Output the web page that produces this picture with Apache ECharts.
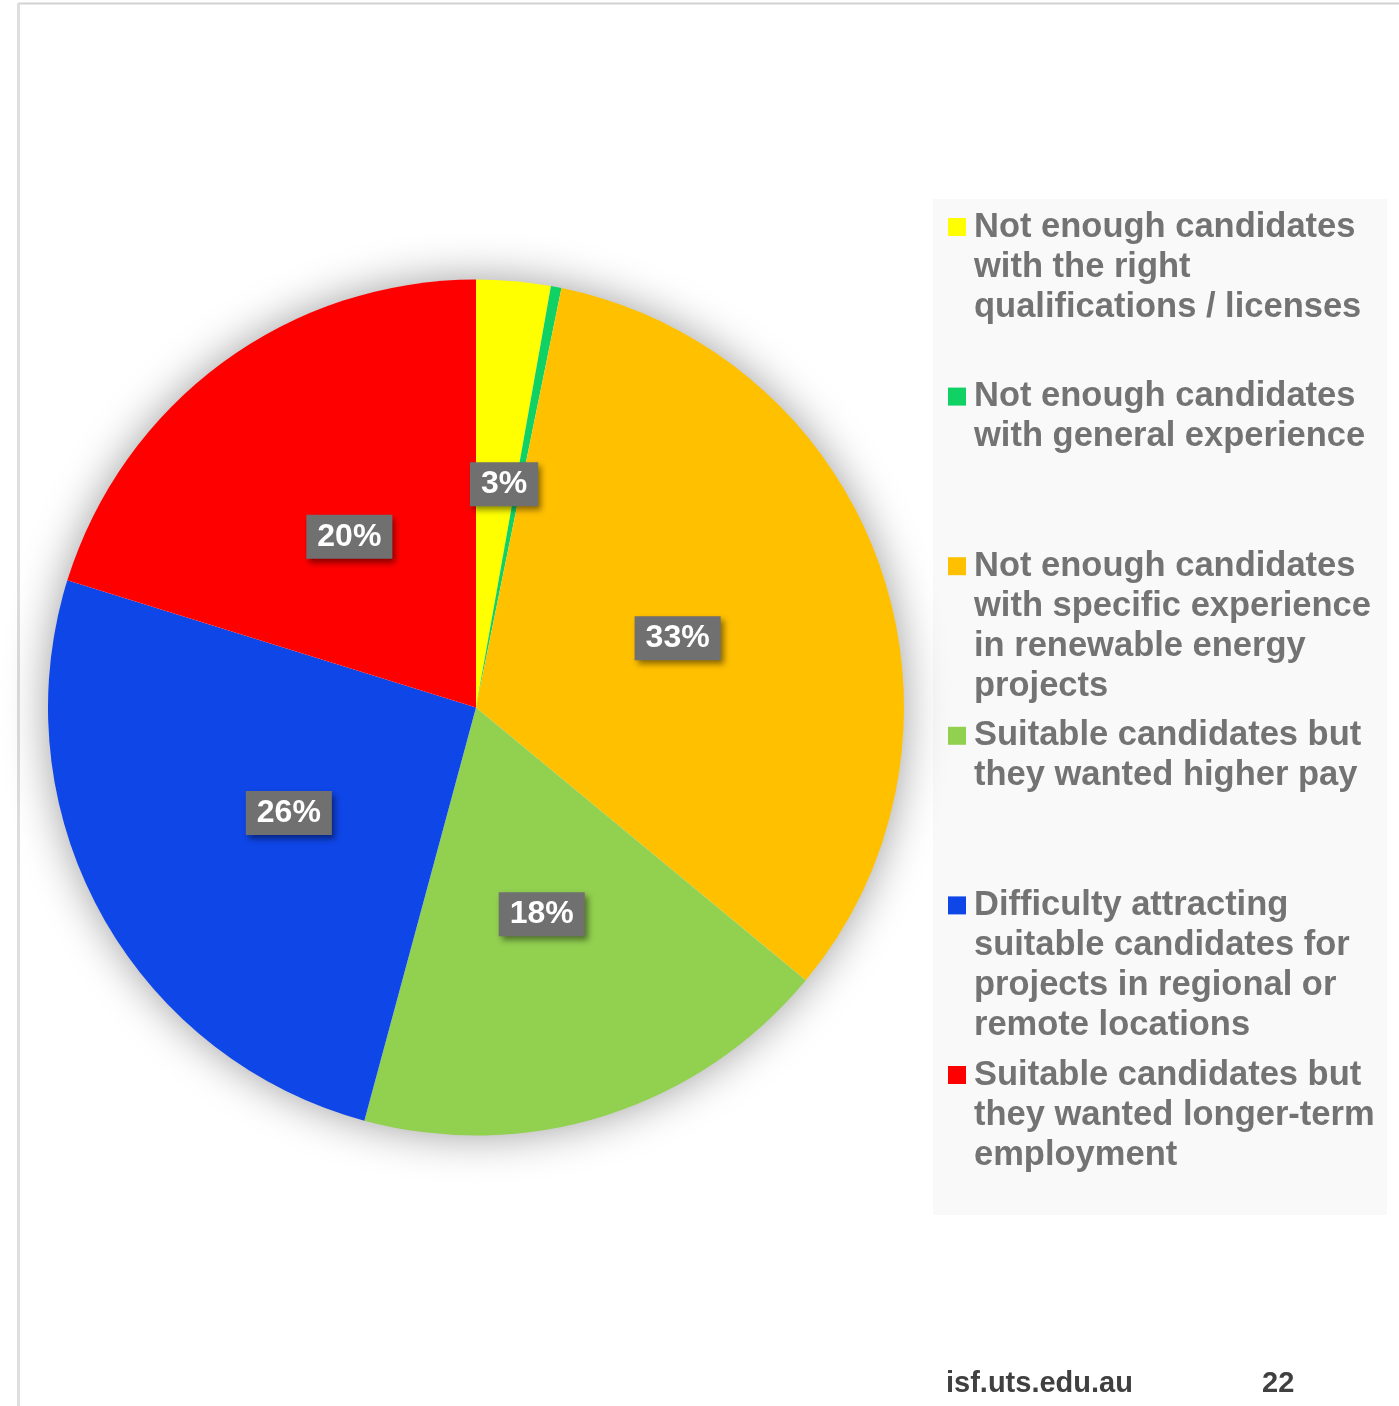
<!DOCTYPE html>
<html>
<head>
<meta charset="utf-8">
<script src="https://cdn.jsdelivr.net/npm/echarts@6/dist/echarts.min.js"></script>
<style>
html,body{margin:0;padding:0;background:#fff;}
#chart{width:1399px;height:1406px;}
</style>
</head>
<body>
<div id="chart"></div>
<script>
// ---- data ----
const categoryLines = [
  ["Not enough candidates", "with the right", "qualifications / licenses"],
  ["Not enough candidates", "with general experience"],
  ["Not enough candidates", "with specific experience", "in renewable energy", "projects"],
  ["Suitable candidates but", "they wanted higher pay"],
  ["Difficulty attracting", "suitable candidates for", "projects in regional or", "remote locations"],
  ["Suitable candidates but", "they wanted longer-term", "employment"]
];
const values = [2.8, 0.4, 32.8, 18.2, 25.6, 20.2];
const colors = ["#FFFF00", "#10D264", "#FFC000", "#92D050", "#0F46E8", "#FF0000"];
const showLabel = [true, false, true, true, true, true];
const footerSite = "isf.uts.edu.au";
const footerPage = "22";

const categories = categoryLines.map(l => l.join(" "));
const FONT = "'Liberation Sans', Arial, Helvetica, sans-serif";

const chart = echarts.init(document.getElementById('chart'));

const legends = categoryLines.map((lines, i) => {
  const N = lines.length;
  const firstLineCenter = 227 + 169.6 * i;
  // blank lines before the text so the icon (centred on the block) sits on the first line
  const padded = new Array(N - 1).fill(' ').concat(lines).join('\n');
  return {
    left: 948,
    top: firstLineCenter - (40 * N - 20),
    orient: 'vertical',
    padding: 0,
    selectedMode: false,
    icon: 'rect',
    itemWidth: 18,
    itemHeight: 18,
    data: [categories[i]],
    formatter: () => padded,
    textStyle: {
      fontFamily: FONT,
      fontSize: 34.5,
      fontWeight: 'bold',
      color: '#737373',
      lineHeight: 40,
      padding: [0, 0, 0, 3]
    }
  };
});

chart.setOption({
  backgroundColor: '#ffffff',
  animation: false,
  graphic: [
    { type: 'rect', z: -10, shape: { x: 933, y: 199, width: 454, height: 1016 }, style: { fill: '#f9f9f9' } },
    { type: 'line', shape: { x1: 18, y1: 3.5, x2: 1399, y2: 3.5 }, style: { stroke: '#d2d2d2', lineWidth: 2 } },
    { type: 'line', shape: { x1: 18.5, y1: 3, x2: 18.5, y2: 1406 }, style: { stroke: '#dedede', lineWidth: 3 } },
    { type: 'text', left: 946, top: 1369, style: { text: footerSite, font: "bold 29px " + FONT, fill: '#404040' } },
    { type: 'text', left: 1262, top: 1369, style: { text: footerPage, font: "bold 29px " + FONT, fill: '#404040' } }
  ],
  legend: legends,
  series: [
    {
      type: 'pie',
      silent: true,
      z: 1,
      center: [476, 707.5],
      radius: 427,
      label: { show: false },
      labelLine: { show: false },
      itemStyle: { color: '#ffffff', shadowBlur: 45, shadowColor: 'rgba(0,0,0,0.4)' },
      data: [{ value: 1, name: '__bg' }],
      legendHoverLink: false
    },
    {
      type: 'pie',
      z: 2,
      center: [476, 707.5],
      radius: 428,
      startAngle: 90,
      clockwise: true,
      avoidLabelOverlap: false,
      emphasis: { disabled: true },
      labelLine: { show: false },
      labelLayout: function (p) {
        if (p.dataIndex === 0) return { dx: 9, dy: -7 };
        if (p.dataIndex === 2) return { dx: -3, dy: 3 };
        if (p.dataIndex === 5) return { dx: 2, dy: 4 };
        if (p.dataIndex === 4) return { dx: 3, dy: 1 };
        return {};
      },
      label: {
        show: true,
        position: 'inside',
        formatter: p => Math.round(p.percent) + '%',
        color: '#ffffff',
        fontFamily: FONT,
        fontSize: 32,
        fontWeight: 'bold',
        lineHeight: 34,
        backgroundColor: '#707070',
        padding: [6, 11, 4, 11],
        shadowColor: 'rgba(0,0,0,0.45)',
        shadowBlur: 6,
        shadowOffsetX: 3,
        shadowOffsetY: 4
      },
      data: categories.map((name, i) => ({
        name: name,
        value: values[i],
        itemStyle: { color: colors[i] },
        label: { show: showLabel[i] }
      }))
    }
  ]
});
</script>
</body>
</html>
